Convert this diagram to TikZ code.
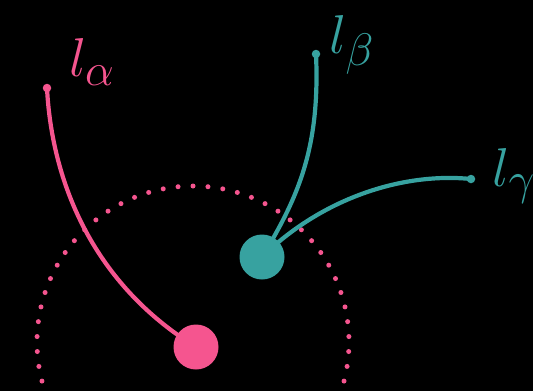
\documentclass[tikz,border=0pt]{standalone}
\usepackage{graphicx}
\usepackage{xcolor}
\definecolor{pinkc}{HTML}{F5558F}
\definecolor{tealc}{HTML}{37A2A0}
\begin{document}
\begin{tikzpicture}[x=1pt,y=-1pt,
  stroke/.style={line width=4.2pt, line cap=round},
  bigdot/.style={circle, inner sep=0pt, minimum size=45pt},
  tip/.style={circle, inner sep=0pt, minimum size=8.5pt},
  lbl/.style={font=\Huge, inner sep=0pt}]
\fill[black] (0,0) rectangle (533,391);
\useasboundingbox (0,0) rectangle (533,391);
\begin{scope}
\clip (0,0) rectangle (533,391);
\foreach \a in {-20,-14.5,...,200} {
  \fill[pinkc] ({193+156*cos(\a)},{342-156*sin(\a)}) circle (2.5);
}
\end{scope}
% free ends
\node[tip, fill=pinkc] (ea) at (47,88) {};
\node[tip, fill=tealc] (eb) at (316,54) {};
\node[tip, fill=tealc] (ec) at (471,179) {};
% big dots
\node[bigdot, fill=pinkc] (pa) at (196,347) {};
\node[bigdot, fill=tealc] (pb) at (262,257) {};
% curves
\draw[stroke, pinkc] (ea.center) .. controls (52,185) and (95,285) .. (pa.center);
\draw[stroke, tealc] (eb.center) .. controls (320,145) and (300,195) .. (pb.center);
\draw[stroke, tealc] (pb.center) .. controls (320,200) and (400,172) .. (ec.center);
% labels
\node[lbl, text=pinkc] (la) at (92,62) {\scalebox{2.2}{$l_\alpha$}};
\node[lbl, text=tealc] (lb) at (352,45) {\scalebox{2.2}{$l_\beta$}};
\node[lbl, text=tealc] (lc) at (514,176) {\scalebox{2.2}{$l_\gamma$}};
\end{tikzpicture}
\end{document}
